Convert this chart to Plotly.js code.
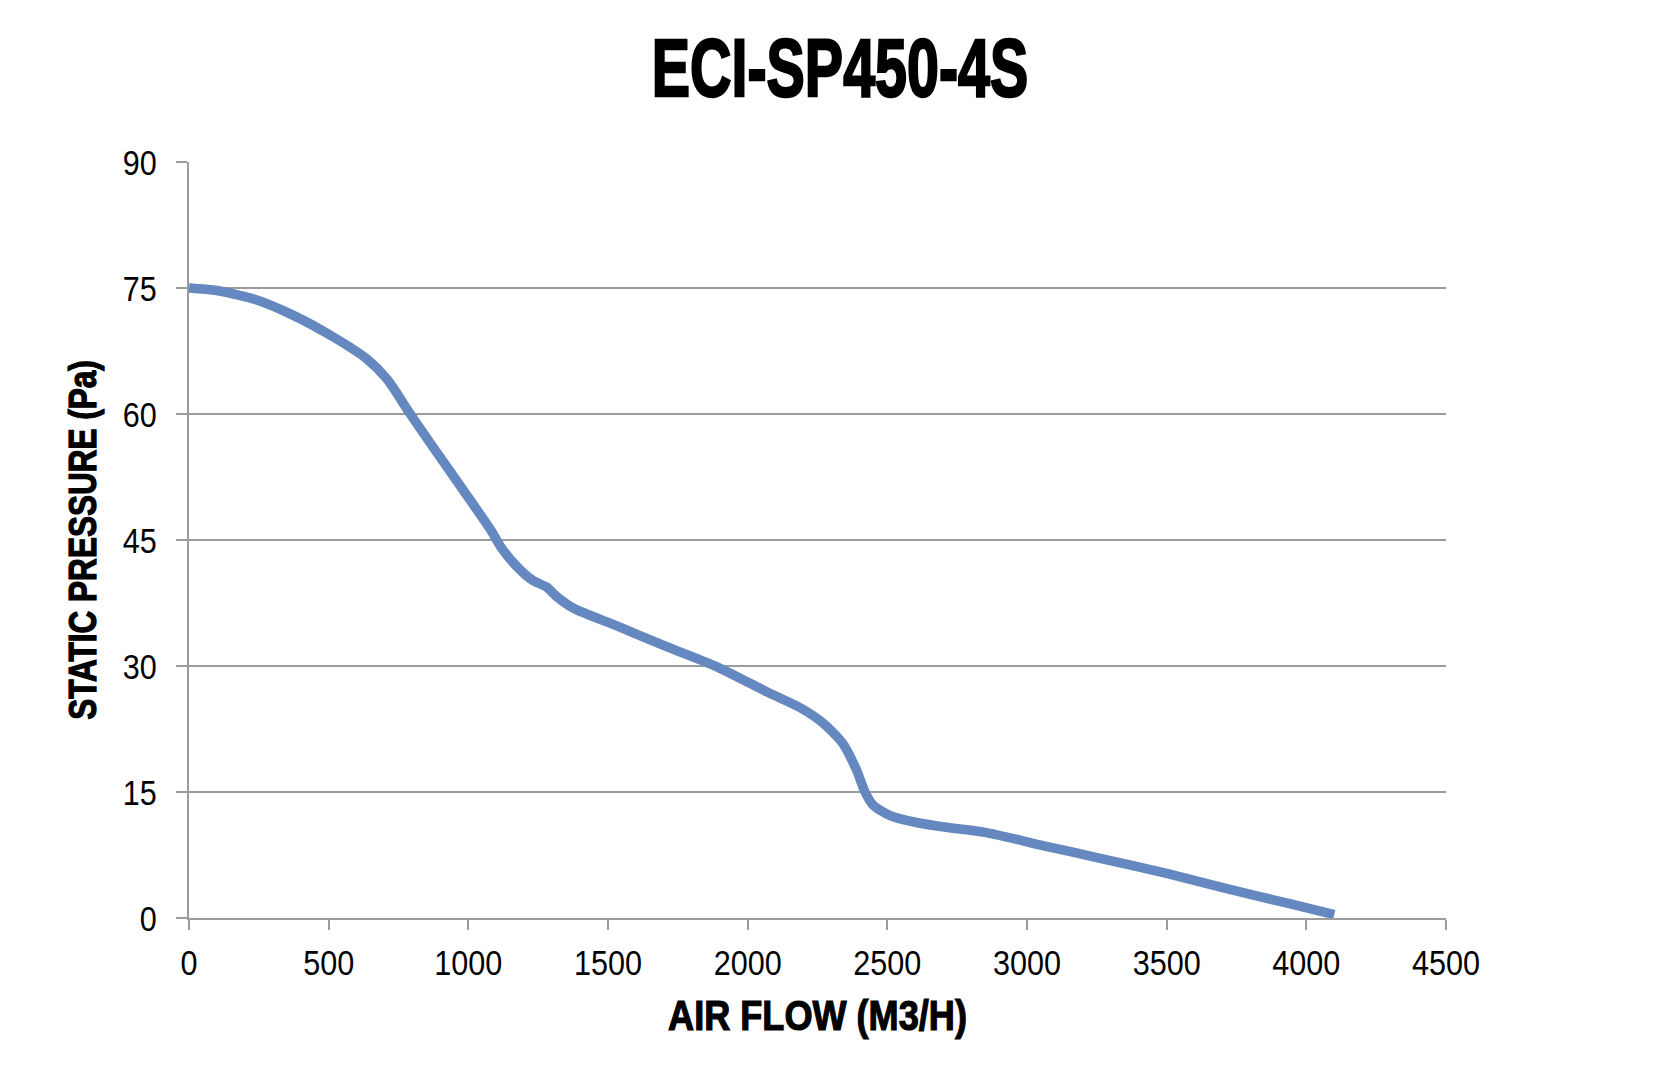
<!DOCTYPE html>
<html>
<head>
<meta charset="utf-8">
<script src="https://cdn.plot.ly/plotly-3.0.1.min.js"></script>
<style>
  html, body { margin: 0; padding: 0; background: #fff; }
  #chart { width: 1680px; height: 1090px; }
</style>
</head>
<body>
<div id="chart"></div>
<script>
// fan curve
const airFlow = [0, 100, 240, 370, 515, 635, 710, 790, 875, 995, 1080, 1120, 1175, 1230, 1280, 1315, 1375,
    1530, 1710, 1890, 2070, 2190, 2270, 2340, 2390, 2420, 2450, 2510, 2600, 2710, 2850, 3060, 3250,
    3500, 3690, 3940, 4100];
const staticPressure = [75, 74.7, 73.6, 71.8, 69.2, 66.6, 64.1, 60.1, 56, 50.3, 46.2, 44, 41.8, 40.2, 39.4, 38.3, 36.9,
    34.8, 32.3, 29.9, 26.9, 25.0, 23.2, 20.8, 17.6, 15, 13.4, 12.2, 11.4, 10.8, 10.2, 8.6, 7.2,
    5.3, 3.7, 1.7, 0.4];
const xTicks = [0, 500, 1000, 1500, 2000, 2500, 3000, 3500, 4000, 4500];
const yTicks = [0, 15, 30, 45, 60, 75, 90];

const sans = 'Liberation Sans, Arial, sans-serif';
const gridGrey = '#9c9c9c';

const data = [
    {
        x: airFlow,
        y: staticPressure,
        type: 'scatter',
        mode: 'lines',
        line: { color: '#6488bf', width: 9.5, shape: 'spline', smoothing: 0.7 },
        showlegend: false
    }
];

const layout = {
    width: 1680,
    height: 1090,
    margin: { l: 189, r: 234, t: 162, b: 172 },
    paper_bgcolor: 'white',
    plot_bgcolor: 'white',
    font: { family: sans, size: 36, color: '#000' },
    title: {
        text: 'ECI-SP450-4S',
        font: { family: sans, size: 82, weight: 'bold', color: '#000' },
        xref: 'container', x: 0.5, xanchor: 'center',
        yref: 'container', y: 1 - 67 / 1090, yanchor: 'middle'
    },
    xaxis: {
        range: [0, 4500],
        tickmode: 'array',
        tickvals: xTicks,
        showgrid: false,
        zeroline: false,
        showline: true,
        linecolor: gridGrey,
        linewidth: 2,
        ticks: 'outside',
        ticklen: 10,
        tickwidth: 2,
        tickcolor: gridGrey,
        ticklabelstandoff: 2,
        tickfont: { family: sans, size: 36, color: '#000' },
        title: {
            text: 'AIR FLOW (M3/H)',
            font: { family: sans, size: 42, weight: 'bold', color: '#000' },
            standoff: 18
        }
    },
    yaxis: {
        range: [0, 90],
        tickmode: 'array',
        tickvals: yTicks,
        showgrid: true,
        gridcolor: gridGrey,
        gridwidth: 2,
        zeroline: false,
        showline: true,
        linecolor: gridGrey,
        linewidth: 2,
        ticks: 'outside',
        ticklen: 11,
        tickwidth: 2,
        tickcolor: gridGrey,
        ticklabelstandoff: 12,
        tickfont: { family: sans, size: 36, color: '#000' },
        title: {
            text: 'STATIC PRESSURE (Pa)',
            font: { family: sans, size: 38, weight: 'bold', color: '#000' },
            standoff: 8
        }
    }
};

// squeeze text horizontally to get the condensed look, keeping each anchor in place
function narrowText(nodes, sx, stroke) {
    nodes.forEach(function (t) {
        const x = parseFloat(t.getAttribute('x')) || 0;
        const old = t.getAttribute('transform') || '';
        t.setAttribute('transform', old + ' translate(' + x + ',0) scale(' + sx + ',1) translate(' + (-x) + ',0)');
        if (stroke) {
            t.style.stroke = '#000';
            t.style.strokeWidth = stroke + 'px';
        }
    });
}

Plotly.newPlot('chart', data, layout, { displayModeBar: false, staticPlot: true }).then(function (gd) {
    narrowText(gd.querySelectorAll('.xtick text, .ytick text'), 0.85);
    narrowText(gd.querySelectorAll('.g-gtitle text'), 0.7, 2.5);
    narrowText(gd.querySelectorAll('.g-xtitle text'), 0.86, 1.2);
    narrowText(gd.querySelectorAll('.g-ytitle text'), 0.83, 1.2);
});
</script>
</body>
</html>
